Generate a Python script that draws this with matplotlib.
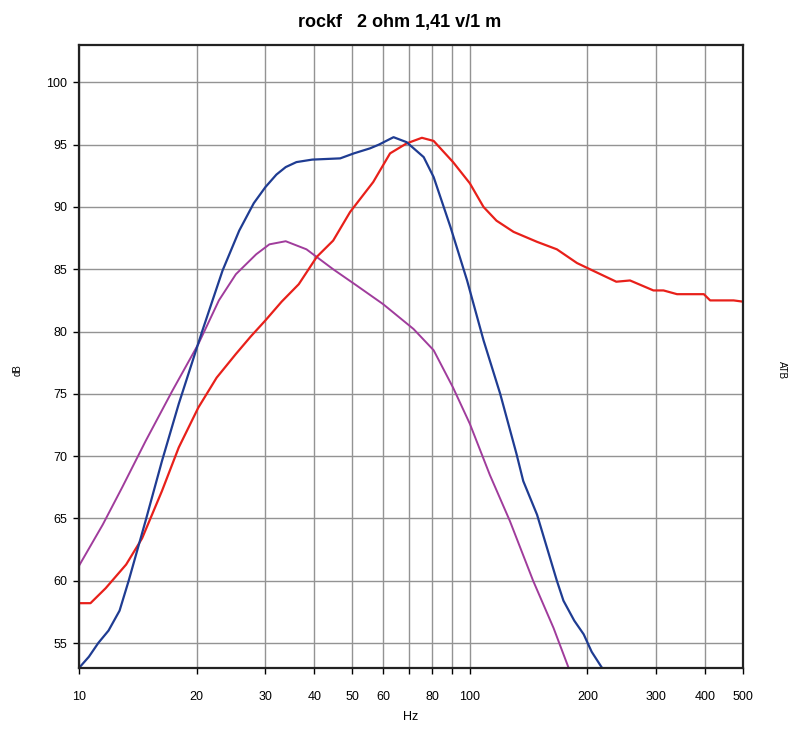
import numpy as np
import matplotlib
matplotlib.use("Agg")
import matplotlib.pyplot as plt
from matplotlib.ticker import FixedLocator, NullFormatter

plt.rcParams['font.family'] = ['Liberation Sans', 'DejaVu Sans']

# blue curve
blue_f = [10, 10.6, 11.2, 11.9, 12.7, 13.4, 14.8, 16.3, 18.0, 20.7, 23.3, 25.7, 28.0,
          30.0, 32.0, 33.8, 36.0, 39.5, 46.6, 50.5, 55.5, 58.5, 63.8, 68.9, 76.2,
          80.8, 89.2, 98.4, 108.4, 119.6, 131.6, 137, 148.6, 167, 173.6, 185, 195.6,
          205, 219]
blue_db = [53.0, 53.9, 55.0, 56.0, 57.6, 60.0, 64.8, 69.6, 74.2, 80.1, 84.9, 88.1, 90.3,
           91.6, 92.6, 93.2, 93.6, 93.8, 93.9, 94.3, 94.7, 95.0, 95.6, 95.2, 94.0,
           92.4, 88.4, 84.1, 79.3, 75.0, 70.2, 68.0, 65.3, 60.0, 58.4, 56.8, 55.7,
           54.3, 52.9]

# red curve
red_f = [10, 10.7, 11.7, 13.2, 14.5, 16.3, 18.0, 20.2, 22.5, 25.2, 27.5, 30.0, 33.0,
         36.5, 40.6, 44.7, 49.4, 56.6, 62.5, 68.9, 75.4, 80.8, 90.6, 100, 108.4,
         117, 129.4, 148.6, 167, 188, 203, 237, 257, 295, 313, 339, 397, 412, 473, 500]
red_db = [58.2, 58.2, 59.4, 61.3, 63.4, 67.2, 70.7, 73.9, 76.3, 78.2, 79.6, 80.9, 82.4,
          83.8, 86.0, 87.3, 89.6, 92.0, 94.3, 95.1, 95.55, 95.3, 93.6, 91.9, 90.0,
          88.9, 88.0, 87.2, 86.6, 85.5, 85.0, 84.0, 84.1, 83.3, 83.3, 83.0, 83.0,
          82.5, 82.5, 82.4]

# purple curve
purple_f = [10, 11.5, 12.9, 14.8, 17.3, 20.2, 22.8, 25.2, 28.4, 30.7, 33.8, 38.2,
            44.7, 51.3, 60, 71.8, 80.8, 90.6, 100, 112.5, 126.6, 145.2, 163.8, 179]
purple_db = [61.2, 64.5, 67.5, 71.2, 75.2, 79.0, 82.5, 84.6, 86.2, 87.0, 87.25, 86.6,
             85.0, 83.7, 82.2, 80.2, 78.5, 75.5, 72.6, 68.5, 64.8, 60.0, 56.2, 53.0]

x_ticks = [10, 20, 30, 40, 50, 60, 80, 100, 200, 300, 400, 500]
x_minor = [70, 90]
y_ticks = [55, 60, 65, 70, 75, 80, 85, 90, 95, 100]

fig = plt.figure(figsize=(8, 7.35), dpi=100)
ax = fig.add_axes([0.09875, 0.0912, 0.83, 0.8476])

ax.plot(purple_f, purple_db, color='#a03c9c', lw=1.4)
ax.plot(red_f, red_db, color='#e8201a', lw=1.6)
ax.plot(blue_f, blue_db, color='#1f3c92', lw=1.6)

ax.set_xscale('log')
ax.set_xlim(10, 500)
ax.set_ylim(53, 103)

ax.xaxis.set_major_locator(FixedLocator(x_ticks))
ax.xaxis.set_minor_locator(FixedLocator(x_minor))
ax.xaxis.set_minor_formatter(NullFormatter())
ax.set_xticklabels([str(t) for t in x_ticks])
ax.set_yticks(y_ticks)
ax.set_yticklabels([str(t) for t in y_ticks])

ax.grid(True, which='both', color='#939393', lw=1.0)
ax.set_axisbelow(True)

ax.tick_params(axis='x', which='both', direction='out', length=4, width=1,
               pad=12.5, labelsize=9)
ax.tick_params(axis='y', direction='out', length=4, width=1, pad=4.5, labelsize=9)

for s in ax.spines.values():
    s.set_color('#222222')
    s.set_linewidth(1.6)

ax.set_xlabel('Hz', fontsize=9, labelpad=6)
fig.text(0.022, 0.497, 'dB', rotation=90, fontsize=7, ha='center', va='center')
fig.text(0.978, 0.497, 'ATB', rotation=270, fontsize=7, ha='center', va='center')
fig.text(0.5, 0.970, 'rockf   2 ohm 1,41 v/1 m', fontsize=13, fontweight='bold',
         ha='center', va='center')

fig.savefig('out.png', dpi=100)
